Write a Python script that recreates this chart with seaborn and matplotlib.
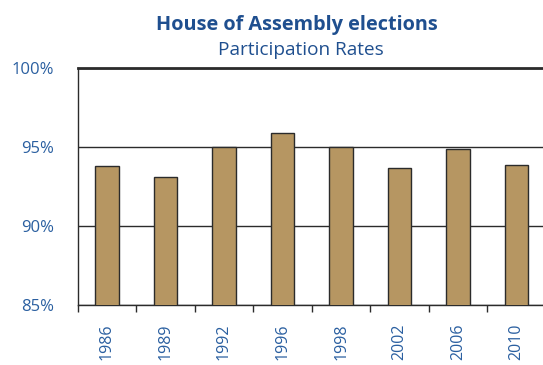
import matplotlib
matplotlib.use("Agg")
import matplotlib.pyplot as plt
from matplotlib.ticker import FixedLocator, FuncFormatter
import seaborn as sns
import pandas as pd

years = ["1986", "1989", "1992", "1996", "1998", "2002", "2006", "2010"]
participation = [93.8, 93.1, 95.0, 95.9, 95.0, 93.7, 94.9, 93.9]
y_ticks = [85, 90, 95, 100]

title = "House of Assembly elections"
subtitle = "Participation Rates"

blue = "#2a5fa0"
bar_color = "#b69662"

sns.set_theme(style="white")
plt.rcParams["font.family"] = ["Open Sans", "DejaVu Sans"]

df = pd.DataFrame({"year": years, "rate": participation})

fig = plt.figure(figsize=(5.43, 3.65), dpi=100)
ax = fig.add_axes([0.143, 0.1644, 0.8625, 0.648])

sns.barplot(data=df, x="year", y="rate", color=bar_color, saturation=1,
            width=0.4, edgecolor="#2b2b2b", linewidth=1.0, ax=ax, zorder=3)

ax.set_ylim(85, 100)
ax.set_xlim(-0.5, len(years) - 0.5)
ax.yaxis.set_major_locator(FixedLocator(y_ticks))
ax.yaxis.set_major_formatter(FuncFormatter(lambda v, p: f"{v:.0f}%"))
ax.grid(axis="y", color="#2b2b2b", linewidth=1.0, zorder=0)
ax.grid(axis="x", visible=False)

for side in ["left", "bottom"]:
    ax.spines[side].set_color("#2b2b2b")
    ax.spines[side].set_linewidth(1.0)
ax.spines["top"].set_color("#2b2b2b")
ax.spines["top"].set_linewidth(2.0)
ax.spines["right"].set_visible(False)

ax.set_xlabel("")
ax.set_ylabel("")
ax.tick_params(axis="y", length=0, pad=17, labelsize=12, labelcolor=blue)
ax.tick_params(axis="x", which="major", length=0, pad=13.5, labelsize=11.5,
               labelcolor=blue, labelrotation=90)
ax.xaxis.set_minor_locator(FixedLocator([i - 0.5 for i in range(len(years) + 1)]))
ax.tick_params(axis="x", which="minor", length=5, width=1.0, color="#2b2b2b",
               direction="out", bottom=True)

fig.text(0.547, 0.932, title, ha="center", va="center", fontsize=14.3,
         fontweight="bold", color="#1f4f8f")
fig.text(0.554, 0.863, subtitle, ha="center", va="center", fontsize=13.7,
         color="#1f4f8f")

fig.savefig("out.png", dpi=100)
